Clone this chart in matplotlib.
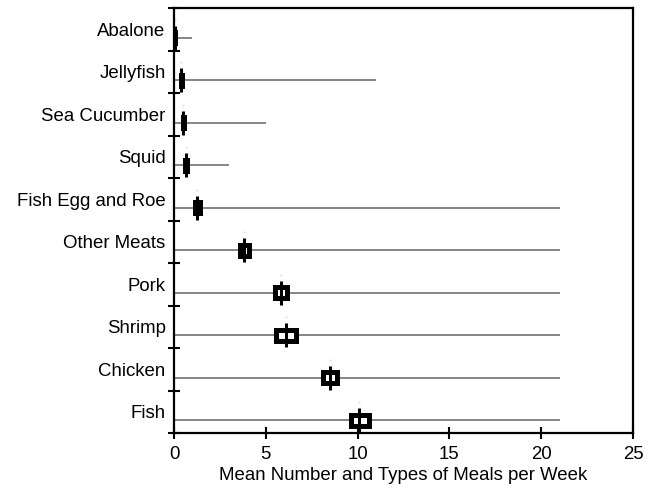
import matplotlib
matplotlib.use("Agg")
import matplotlib.pyplot as plt
from matplotlib.patches import Rectangle

plt.rcParams['font.family'] = ['Liberation Sans', 'DejaVu Sans']

# Data (top to bottom)
categories = ["Abalone", "Jellyfish", "Sea Cucumber", "Squid", "Fish Egg and Roe",
              "Other Meats", "Pork", "Shrimp", "Chicken", "Fish"]
means = [0.03, 0.40, 0.50, 0.63, 1.25, 3.80, 5.83, 6.10, 8.50, 10.10]
ci_low = [0.00, 0.36, 0.47, 0.58, 1.12, 3.57, 5.48, 5.55, 8.09, 9.62]
ci_high = [0.05, 0.46, 0.56, 0.68, 1.44, 4.11, 6.18, 6.67, 8.90, 10.64]
range_min = [0, 0, 0, 0, 0, 0, 0, 0, 0, 0]
range_max = [1, 11, 5, 3, 21, 21, 21, 21, 21, 21]
xticks = [0, 5, 10, 15, 20, 25]
xlabel = "Mean Number and Types of Meals per Week"

fig = plt.figure(figsize=(6.53, 4.88), dpi=100)
ax = fig.add_axes([0.2665, 0.1127, 0.7029, 0.8709])

n = len(categories)
line_off = 0.30
box_h = 0.27
fs = 13.4
for i, cat in enumerate(categories):
    k = n - 1 - i  # band index from bottom
    y = k + line_off
    ax.hlines(y, range_min[i], range_max[i], color='#646464', lw=1.1, zorder=1)
    ax.add_patch(Rectangle((ci_low[i], y - box_h / 2), ci_high[i] - ci_low[i], box_h,
                           facecolor='white', edgecolor='black', lw=3.6,
                           joinstyle='miter', zorder=3))
    ax.vlines(means[i], y - 0.28, y + 0.28, color='black', lw=2.2, zorder=4)
    ax.plot([means[i]], [y + 0.42], marker='.', ms=1.5, color='#e6e6e6', zorder=2)

ax.set_xlim(0, 25)
ax.set_ylim(0, n)
ax.set_xticks(xticks)
ax.set_xticklabels([str(t) for t in xticks], fontsize=fs)
ax.set_yticks(range(0, n + 1))
ax.set_yticklabels([])
ax.set_yticks([k + 0.5 for k in range(n)], minor=True)
ax.set_yticklabels(categories[::-1], minor=True, fontsize=fs)
ax.tick_params(axis='y', which='minor', length=0, pad=6)
ax.tick_params(axis='y', which='major', direction='inout', length=8, width=1.5)
ax.tick_params(axis='x', direction='inout', length=9, width=1.5, pad=5)
ax.set_xlabel(xlabel, fontsize=fs, labelpad=3)
for s in ax.spines.values():
    s.set_linewidth(1.6)

fig.savefig("out.png", dpi=100)
